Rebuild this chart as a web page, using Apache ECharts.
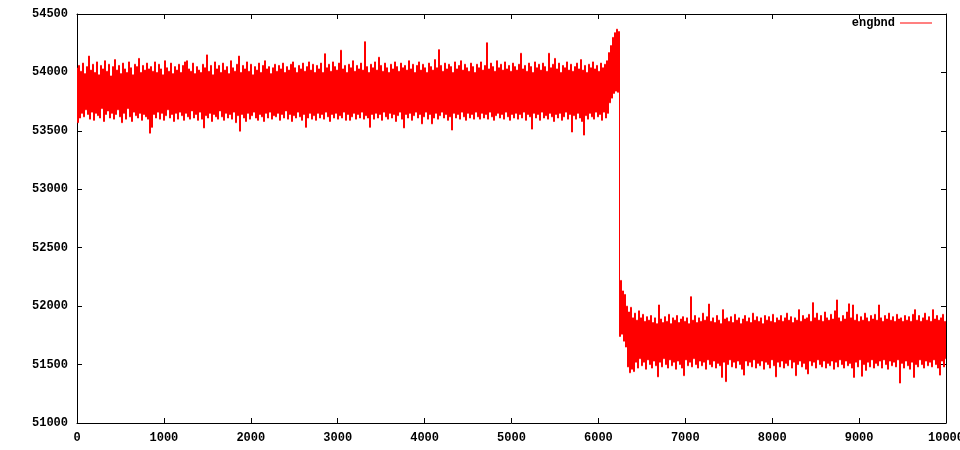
<!DOCTYPE html>
<html>
<head>
<meta charset="utf-8">
<script src="https://cdn.jsdelivr.net/npm/echarts@6/dist/echarts.min.js"></script>
<style>html,body{margin:0;padding:0;background:#fff}#c{width:960px;height:450px}</style>
</head>
<body>
<div id="c"></div>
<script>
// x spacing of the samples (one sample per pixel column of the plot)
const sampleStep = 10000 / 869;
const sampleOffset = 0.5;
const xTicks = [0,1000,2000,3000,4000,5000,6000,7000,8000,9000,10000];
const yTicks = [51000,51500,52000,52500,53000,53500,54000,54500];
const seriesName = 'engbnd';

// upper band: x 0 .. ~6110
const upperBand = [
54040,53570,54060,53610,54010,53650,54080,53620,53990,53680,54050,53640,54140,53600,54020,53660,54070,53590,54000,53650,
54090,53630,53980,53610,54060,53690,54030,53580,54100,53640,54010,53670,54070,53610,53970,53650,54050,53600,54110,53640,
54020,53680,54060,53620,53990,53570,54080,53650,54030,53600,54000,53690,54090,53620,54040,53580,53980,53660,54070,53630,
54050,53610,54120,53650,54000,53590,54060,53640,54020,53620,54080,53600,54030,53480,54050,53530,54010,53640,54090,53610,
54000,53660,54070,53600,54030,53650,53980,53590,54100,53630,54040,53680,54010,53610,54080,53640,53990,53580,54050,53650,
54020,53600,54070,53660,54000,53630,54060,53590,54090,53650,54100,53620,54030,53600,54010,53670,54080,53610,53990,53640,
54050,53590,54020,53660,54000,53600,54070,53525,54040,53630,54150,53610,54010,53650,54060,53580,53980,53640,54090,53620,
54030,53600,54060,53670,54000,53620,54080,53590,54020,53650,54050,53610,53990,53640,54100,53600,54040,53660,54010,53570,
54070,53630,54140,53497,54000,53640,54060,53610,54030,53580,54090,53650,54010,53600,54070,53630,53980,53660,54050,53610,
54020,53590,54080,53640,54000,53620,54060,53580,54100,53650,54030,53610,54050,53660,53990,53600,54040,53630,54070,53620,
54010,53650,54060,53590,54030,53640,54080,53610,54000,53670,54050,53600,54020,53640,54070,53580,54090,53630,54040,53610,
54000,53660,54060,53620,54030,53590,54080,53640,54010,53530,54050,53610,54090,53650,54020,53600,54070,53630,54000,53590,
54060,53650,54030,53610,54080,53640,54000,53600,54160,53660,54040,53620,54070,53580,54010,53640,54090,53610,54050,53650,
54020,53600,54080,53630,54190,53610,54030,53660,54060,53590,54000,53640,54070,53590,54040,53620,54100,53650,54010,53600,
54060,53640,54030,53610,54080,53660,54020,53600,54263,53630,54050,53610,54000,53530,54070,53640,54040,53600,54090,53650,
54020,53610,54130,53640,54060,53590,54010,53660,54080,53620,54040,53600,54000,53650,54070,53610,54030,53640,54090,53580,
54050,53630,54010,53660,54080,53600,54040,53525,54060,53640,54020,53610,54100,53650,54030,53590,54070,53630,54000,53660,
54060,53610,54090,53640,54020,53560,54070,53620,54040,53660,54000,53600,54080,53640,54050,53560,54020,53610,54110,53650,
54040,53600,54195,53630,54060,53660,54010,53610,54080,53640,54030,53590,54070,53620,54050,53507,54000,53650,54090,53610,
54030,53640,54060,53600,54100,53660,54020,53620,54070,53590,54040,53650,54010,53610,54080,53640,54050,53600,54000,53660,
54070,53620,54040,53600,54090,53650,54020,53610,54060,53640,54254,53600,54030,53660,54080,53620,54050,53590,54010,53630,
54100,53650,54040,53610,54070,53640,54020,53600,54090,53660,54030,53620,54060,53590,54010,53640,54080,53610,54050,53650,
54020,53600,54070,53640,54164,53610,54030,53660,54060,53590,54010,53640,54080,53620,54050,53515,54000,53650,54090,53610,
54040,53640,54070,53590,54020,53660,54080,53610,54050,53630,54010,53600,54164,53650,54040,53620,54070,53580,54120,53640,
54030,53610,54080,53650,54000,53590,54060,53620,54040,53660,54090,53600,54020,53640,54070,53490,54010,53630,54050,53600,
54080,53650,54030,53610,54110,53580,54020,53464,54060,53630,54000,53600,54070,53650,54040,53620,54090,53600,54030,53660,
54060,53620,54010,53640,54080,53590,54040,53660,54070,53610,54100,53650
];

// rise just before the drop
const riseSegment = [54170,53740,54230,53780,54300,53820,54340,53840,54370,53830,54350];

// the drop and settling
const dropSegment = [51740,52220,51760,52130,51700,52100,51650,52000];

// lower band: x ~6340 .. 10000
const lowerBand = [
51480,51950,51430,51990,51460,51900,51440,51940,51520,51880,51470,51960,51550,51900,51490,51930,51520,51870,51460,51910,
51540,51880,51500,51920,51470,51860,51530,51900,51490,51850,51395,52010,51520,51890,51480,51860,51550,51910,51500,51870,
51470,51930,51540,51850,51490,51900,51520,51880,51460,51920,51530,51860,51500,51890,51470,51910,51405,51870,51540,51900,
51490,51850,51520,52081,51480,51880,51550,51920,51500,51860,51470,51900,51530,51870,51490,51940,51520,51880,51460,51910,
51540,52018,51500,51870,51480,51900,51530,51860,51470,51920,51510,51880,51490,51850,51390,51970,51520,51890,51354,51900,
51500,51870,51540,51910,51480,51860,51520,51930,51470,51880,51530,51900,51500,51850,51460,51890,51410,51920,51530,51870,
51490,51900,51520,51860,51480,51940,51540,51880,51470,51910,51510,51870,51490,51900,51530,51850,51460,51920,51520,51880,
51500,51910,51470,51870,51540,51930,51490,51860,51395,51900,51520,51880,51480,51920,51530,51870,51470,51900,51510,51940,
51490,51880,51540,51910,51470,51860,51520,51900,51405,51880,51500,51970,51530,51870,51480,51920,51510,51890,51460,51900,
51420,51930,51530,51870,51490,52030,51520,51900,51470,51940,51540,51880,51500,51920,51480,51870,51530,51950,51470,51900,
51510,51880,51490,51930,51530,51890,51460,51960,51520,52053,51480,51900,51540,51870,51500,51920,51470,51890,51530,51950,
51490,52020,51510,51900,51470,52010,51390,51880,51520,51930,51480,51870,51540,51910,51400,51880,51500,51940,51450,51900,
51520,51870,51480,51920,51540,51890,51470,51930,51510,51880,51490,52010,51530,51900,51470,51870,51540,51920,51500,51890,
51460,51940,51530,51880,51490,51910,51520,51870,51480,51930,51540,51890,51342,51900,51510,51870,51470,51920,51530,51880,
51490,51910,51460,51870,51520,51930,51390,51970,51500,51880,51480,51920,51540,51870,51500,51900,51470,51940,51530,51880,
51490,51910,51520,51870,51480,51970,51540,51890,51500,51920,51470,51880,51410,51900,51530,51930,51480,51870,51550
];

const engbnd = [].concat(upperBand, riseSegment, dropSegment, lowerBand);
const seriesData = engbnd.map((v, i) => [(i + sampleOffset) * sampleStep, v]);

const font = { fontFamily: '"Liberation Mono","DejaVu Sans Mono",monospace', fontWeight: 'bold', fontSize: 12, color: '#000' };
const lineStyle = { color: '#000', width: 1 };
const plain = v => String(v);

// each sample is drawn as a vertical stroke to the next sample (like the per-column strokes of the original)
function renderStep(params, api) {
  const i = params.dataIndex;
  if (i >= seriesData.length - 1) return null;
  const p0 = api.coord([api.value(0), api.value(1)]);
  const p1 = api.coord(seriesData[i + 1]);
  return {
    type: 'polyline',
    shape: { points: [p0, [p0[0], p1[1]], p1] },
    style: { stroke: '#ff0000', lineWidth: 1, fill: null },
    silent: true
  };
}

const chart = echarts.init(document.getElementById('c'), null, { renderer: 'canvas' });
chart.setOption({
  animation: false,
  backgroundColor: '#fff',
  grid: { left: 77, right: 14, top: 14, bottom: 27, containLabel: false, outerBoundsMode: 'none' },
  legend: {
    data: [seriesName],
    right: 28,
    top: 17,
    padding: 0,
    align: 'right',
    icon: 'rect',
    itemWidth: 32,
    itemHeight: 1,
    itemStyle: { color: '#ff0000' },
    textStyle: font,
    selectedMode: false
  },
  xAxis: [
    {
      type: 'value', min: xTicks[0], max: xTicks[xTicks.length - 1], interval: xTicks[1] - xTicks[0],
      axisLine: { show: true, lineStyle: lineStyle, onZero: false },
      axisTick: { show: true, inside: true, length: 5, lineStyle: lineStyle },
      axisLabel: Object.assign({ margin: 9, formatter: plain, hideOverlap: false }, font),
      splitLine: { show: false }
    },
    {
      type: 'value', position: 'top', min: xTicks[0], max: xTicks[xTicks.length - 1], interval: xTicks[1] - xTicks[0],
      axisLine: { show: true, lineStyle: lineStyle, onZero: false },
      axisTick: { show: true, inside: true, length: 5, lineStyle: lineStyle },
      axisLabel: { show: false },
      splitLine: { show: false }
    }
  ],
  yAxis: [
    {
      type: 'value', min: yTicks[0], max: yTicks[yTicks.length - 1], interval: yTicks[1] - yTicks[0],
      axisLine: { show: true, lineStyle: lineStyle, onZero: false },
      axisTick: { show: true, inside: true, length: 5, lineStyle: lineStyle },
      axisLabel: Object.assign({ margin: 9, formatter: plain }, font),
      splitLine: { show: false }
    },
    {
      type: 'value', position: 'right', min: yTicks[0], max: yTicks[yTicks.length - 1], interval: yTicks[1] - yTicks[0],
      axisLine: { show: true, lineStyle: lineStyle, onZero: false },
      axisTick: { show: true, inside: true, length: 5, lineStyle: lineStyle },
      axisLabel: { show: false },
      splitLine: { show: false }
    }
  ],
  series: [{
    name: seriesName,
    type: 'custom',
    xAxisIndex: 0,
    yAxisIndex: 0,
    data: seriesData,
    encode: { x: 0, y: 1 },
    renderItem: renderStep,
    itemStyle: { color: '#ff0000' },
    clip: true,
    silent: true
  }]
});
</script>
</body>
</html>
